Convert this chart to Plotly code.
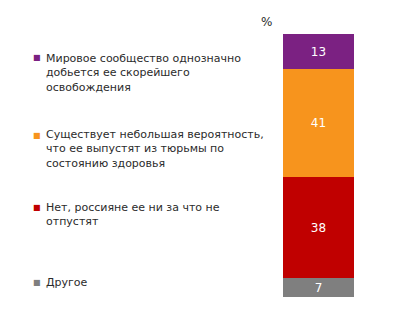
import plotly.graph_objects as go

categories = [
    "Мировое сообщество однозначно<br>добьется ее скорейшего<br>освобождения",
    "Существует небольшая вероятность,<br>что ее выпустят из тюрьмы по<br>состоянию здоровья",
    "Нет, россияне ее ни за что не<br>отпустят",
    "Другое",
]
values = [13, 41, 38, 7]
colors = ["#7B2182", "#F7941D", "#C00000", "#7F7F7F"]

W, H = 401, 318
# legend text block centers (px from top) and first-line centers
block_centers = [72.5, 149, 214, 282]
first_lines = [58, 135, 207, 282]

fig = go.Figure()
# stacked from bottom: Другое, Нет, Существует, Мировое
for cat, val, col in reversed(list(zip(categories, values, colors))):
    fig.add_trace(go.Bar(
        x=["a"], y=[val], marker=dict(color=col, line=dict(width=0)),
        text=[str(val)], textposition="inside", insidetextanchor="middle",
        textangle=0, constraintext="none",
        textfont=dict(color="white", size=12, family="DejaVu Sans"),
        name=cat.replace("<br>", " "), showlegend=False, width=1,
    ))

annotations = []
for cat, col, bc, fl in zip(categories, colors, block_centers, first_lines):
    annotations.append(dict(
        x=44 / W, y=1 - bc / H, xref="paper", yref="paper",
        xanchor="left", yanchor="middle", align="left", showarrow=False,
        text=cat, font=dict(family="DejaVu Sans", size=11, color="#2b2b2b"),
    ))
    annotations.append(dict(
        x=43 / W, y=1 - fl / H, xref="paper", yref="paper",
        xanchor="right", yanchor="middle", showarrow=False,
        text="■", font=dict(family="DejaVu Sans", size=8, color=col),
    ))
annotations.append(dict(
    x=266 / W, y=1 - 22 / H, xref="paper", yref="paper",
    xanchor="center", yanchor="middle", showarrow=False,
    text="%", font=dict(family="DejaVu Sans", size=12, color="#2b2b2b"),
))

fig.update_layout(
    width=W, height=H, barmode="stack", bargap=0,
    margin=dict(l=0, r=0, t=0, b=0),
    paper_bgcolor="white", plot_bgcolor="white",
    xaxis=dict(domain=[283 / W, 354 / W], visible=False, range=[-0.5, 0.5]),
    yaxis=dict(domain=[1 - 297 / H, 1 - 34 / H], visible=False, range=[0, 99]),
    annotations=annotations,
    uniformtext=dict(mode=False),
)
fig.write_html("out.html")
